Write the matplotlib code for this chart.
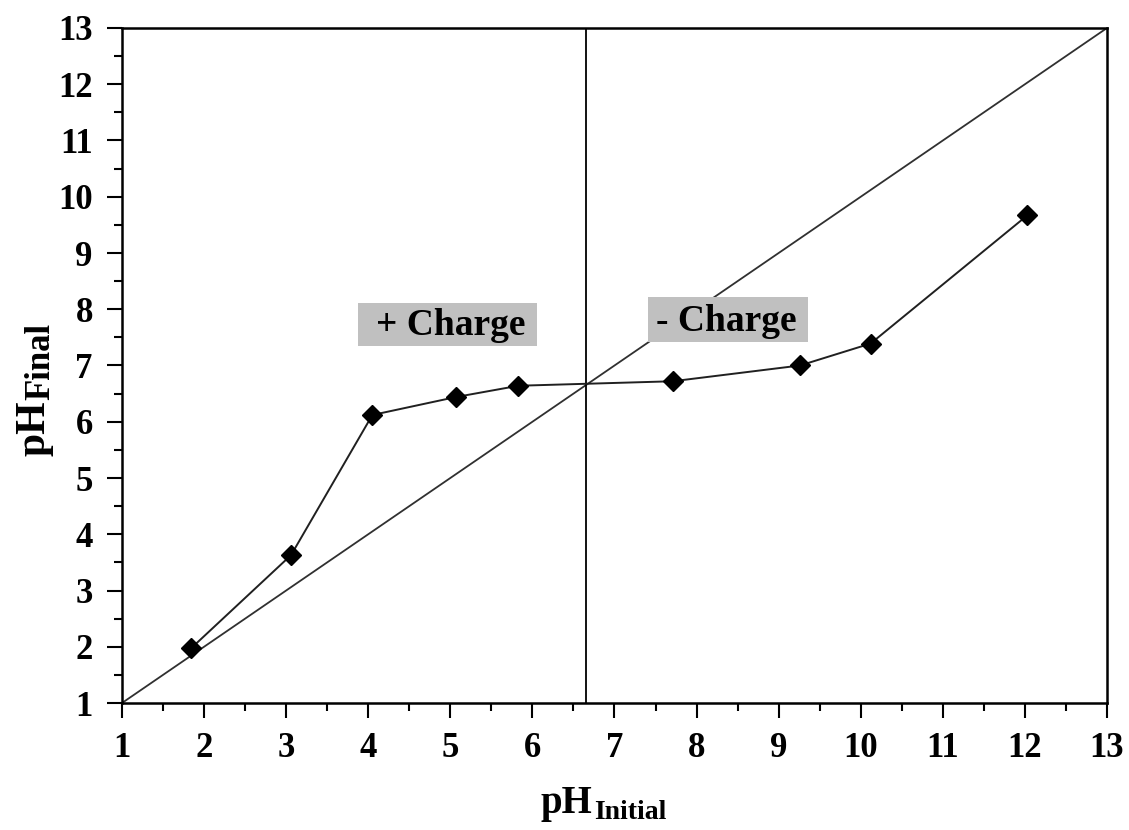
import matplotlib
matplotlib.use("Agg")
import matplotlib.pyplot as plt
from matplotlib.patches import Rectangle
from matplotlib.ticker import MultipleLocator

# Data
ph_initial = [1.84, 3.06, 4.05, 5.07, 5.83, 7.71, 9.26, 10.12, 12.03]
ph_final = [1.97, 3.63, 6.12, 6.44, 6.64, 6.72, 7.00, 7.39, 9.67]
diag = [1, 13]
pzc = 6.65
tick_values = list(range(1, 14))

plt.rcParams['font.family'] = ['Liberation Serif', 'DejaVu Serif']
plt.rcParams['font.weight'] = 'bold'

fig = plt.figure(figsize=(11.29, 8.30), dpi=100)
ax = fig.add_axes([122/1129, 1-703/830, (1107-122)/1129, (703-28)/830])

ax.plot(diag, diag, color='#303030', lw=1.3, zorder=2)
ax.axvline(pzc, color='black', lw=1.3, zorder=2)
ax.plot(ph_initial, ph_final, color='#202020', lw=1.4, marker='D',
        markersize=10.5, markerfacecolor='black', markeredgecolor='black', zorder=4)

ax.set_xlim(1, 13)
ax.set_ylim(1, 13)
ax.set_xticks(tick_values)
ax.set_yticks(tick_values)
ax.xaxis.set_minor_locator(MultipleLocator(0.5))
ax.yaxis.set_minor_locator(MultipleLocator(0.5))
ax.tick_params(which='major', direction='out', length=11, width=1.5, labelsize=25, pad=10)
ax.tick_params(which='minor', direction='out', length=6, width=1.5)
for lab in ax.get_xticklabels() + ax.get_yticklabels():
    lab.set_fontweight('bold')
for sp in ax.spines.values():
    sp.set_linewidth(1.8)

# annotation boxes
ax.add_patch(Rectangle((3.875, 7.35), 2.18, 0.77, facecolor='#c0c0c0', edgecolor='none', zorder=3))
ax.add_patch(Rectangle((7.41, 7.42), 1.95, 0.79, facecolor='#c0c0c0', edgecolor='none', zorder=3))
ax.text(5.01, 7.55, '+ Charge', ha='center', va='baseline', fontsize=27, fontweight='bold', zorder=5)
ax.text(8.36, 7.61, '- Charge', ha='center', va='baseline', fontsize=27, fontweight='bold', zorder=5)

# axis labels with subscripts
W, H = 1129, 830
fig.text(592/W, 1-813/H, 'pH', ha='right', va='baseline', fontsize=28, fontweight='bold')
fig.text(594/W, 1-819/H, 'Initial', ha='left', va='baseline', fontsize=20, fontweight='bold')
fig.text(44/W, 1-400/H, 'pH', ha='right', va='baseline', rotation=90,
         rotation_mode='anchor', fontsize=30, fontweight='bold')
fig.text(49/W, 1-400/H, 'Final', ha='left', va='baseline', rotation=90,
         rotation_mode='anchor', fontsize=25, fontweight='bold')

fig.savefig('out.png', dpi=100)
